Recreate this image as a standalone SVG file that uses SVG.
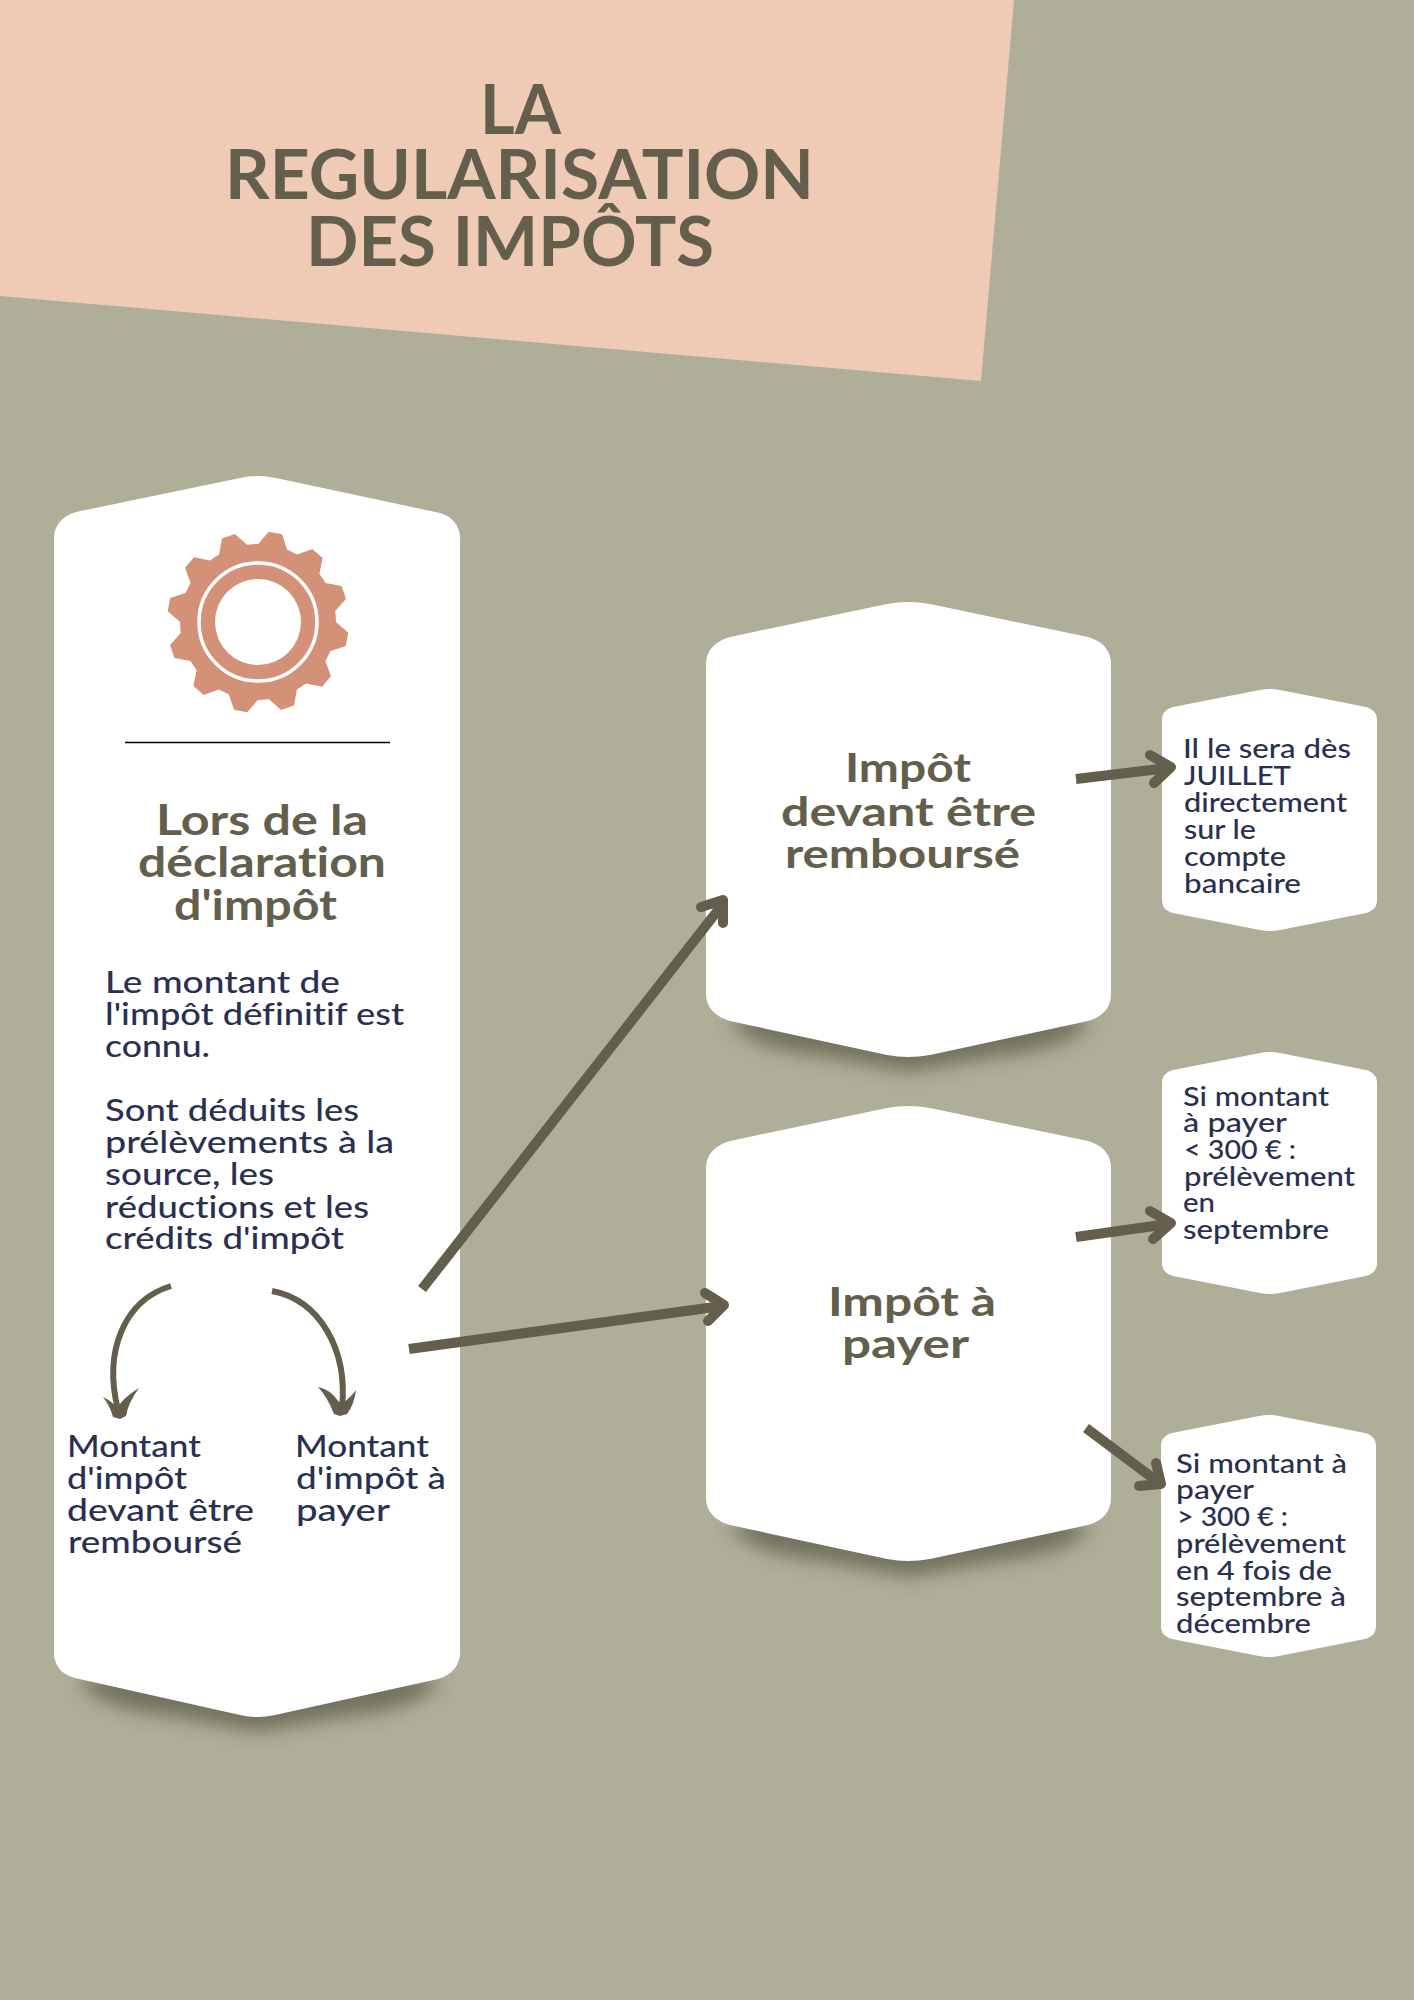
<svg xmlns="http://www.w3.org/2000/svg" xmlns:xlink="http://www.w3.org/1999/xlink" width="1414" height="2000" viewBox="0 0 1414 2000">
<style>
text{font-family:"Lato","Noto Sans",sans-serif;font-variant-ligatures:none}
.white{fill:#fff}
.title{font-size:68px;font-weight:700;fill:#635f4c}
.head{font-size:42px;font-weight:700;fill:#635f4c}
.head2{font-size:40px;font-weight:700;fill:#635f4c}
.body{font-size:31px;fill:#2a3150;font-weight:500}
.small{font-size:26.5px;fill:#2a3150;font-weight:500}
.arrow{fill:none;stroke:#635f4c;stroke-width:10;stroke-linejoin:round}
.head-arm{fill:none;stroke:#635f4c;stroke-width:10;stroke-linecap:round;stroke-linejoin:round}
.curve{fill:none;stroke:#635f4c;stroke-width:6}
.swoosh{fill:#635f4c}
.shadow{fill:#4c4c38;opacity:.6;filter:url(#blur)}
</style>
<defs>
<filter id="blur" x="-20%" y="-100%" width="140%" height="300%"><feGaussianBlur stdDeviation="9"/></filter>
<path id="bigcard" d="M0 62 C0 48 10 39 24 35 L181 2 Q202 -2 224 2 L382 35 C396 39 405 48 405 62 L405 392 C405 406 396 415 382 419 L224 453 Q202 457 181 453 L24 419 C10 415 0 406 0 392 Z"/>
<path id="smallcard" d="M0 31 C0 24 4 20 11 18 L98 1 Q108 -1 118 1 L204 18 C211 20 215 24 215 31 L215 211 C215 218 211 222 204 224 L118 241 Q108 243 98 241 L11 224 C4 222 0 218 0 211 Z"/>
<path id="cardshadow" d="M78 1680 Q95 1708 170 1716 L258 1732 L350 1716 Q425 1708 440 1680 L258 1650 Z"/>
<polygon id="tooth" points="-15.4,-75.5 -6.8,-90.7 6.8,-90.7 15.4,-75.5"/>
</defs>

<rect id="background" width="1414" height="2000" fill="#afae99"/>
<g id="banner">
<polygon points="0,0 1014,0 981,381 0,296" fill="#efcab5"/>
<text class="title" x="480" y="134" textLength="81" lengthAdjust="spacingAndGlyphs">LA</text>
<text class="title" x="225" y="199" textLength="589" lengthAdjust="spacingAndGlyphs">REGULARISATION</text>
<text class="title" x="306" y="266" textLength="408" lengthAdjust="spacingAndGlyphs">DES IMPÔTS</text>
</g>

<g id="card-declaration">
<use xlink:href="#cardshadow" class="shadow"/>
<path class="white" d="M54 538 C54 526 62 516 76 512 L240 478 Q258 474 276 478 L440 513 C452 516 460 526 460 538 L460 1653 C460 1665 452 1675 438 1679 L275 1715 Q257 1719 240 1715 L75 1678 C62 1675 54 1665 54 1653 Z"/>
<g id="gear" transform="translate(258 622)" fill="#d39178">
<circle r="78"/>
<use xlink:href="#tooth" transform="rotate(11)"/>
<use xlink:href="#tooth" transform="rotate(41)"/>
<use xlink:href="#tooth" transform="rotate(71)"/>
<use xlink:href="#tooth" transform="rotate(101)"/>
<use xlink:href="#tooth" transform="rotate(131)"/>
<use xlink:href="#tooth" transform="rotate(161)"/>
<use xlink:href="#tooth" transform="rotate(191)"/>
<use xlink:href="#tooth" transform="rotate(221)"/>
<use xlink:href="#tooth" transform="rotate(251)"/>
<use xlink:href="#tooth" transform="rotate(281)"/>
<use xlink:href="#tooth" transform="rotate(311)"/>
<use xlink:href="#tooth" transform="rotate(341)"/>
<circle r="59" fill="none" stroke="#fff" stroke-width="3.5"/>
<circle r="43" fill="#fff"/>
</g>
<line x1="125" y1="742.5" x2="390" y2="742.5" stroke="#000" stroke-width="1.5"/>
<text class="head" x="156" y="835" textLength="212" lengthAdjust="spacingAndGlyphs">Lors de la</text>
<text class="head" x="138" y="877" textLength="248" lengthAdjust="spacingAndGlyphs">déclaration</text>
<text class="head" x="174" y="920" textLength="163" lengthAdjust="spacingAndGlyphs">d'impôt</text>
<text class="body" x="105" y="993" textLength="235" lengthAdjust="spacingAndGlyphs">Le montant de</text>
<text class="body" x="105" y="1025" textLength="299" lengthAdjust="spacingAndGlyphs">l'impôt définitif est</text>
<text class="body" x="105" y="1057" textLength="105" lengthAdjust="spacingAndGlyphs">connu.</text>
<text class="body" x="105" y="1121" textLength="254" lengthAdjust="spacingAndGlyphs">Sont déduits les</text>
<text class="body" x="105" y="1153" textLength="289" lengthAdjust="spacingAndGlyphs">prélèvements à la</text>
<text class="body" x="105" y="1185" textLength="169" lengthAdjust="spacingAndGlyphs">source, les</text>
<text class="body" x="105" y="1218" textLength="264" lengthAdjust="spacingAndGlyphs">réductions et les</text>
<text class="body" x="105" y="1249" textLength="239" lengthAdjust="spacingAndGlyphs">crédits d'impôt</text>
<text class="body" x="67" y="1457" textLength="134" lengthAdjust="spacingAndGlyphs">Montant</text>
<text class="body" x="67" y="1489" textLength="120" lengthAdjust="spacingAndGlyphs">d'impôt</text>
<text class="body" x="67" y="1521" textLength="187" lengthAdjust="spacingAndGlyphs">devant être</text>
<text class="body" x="68" y="1553" textLength="174" lengthAdjust="spacingAndGlyphs">remboursé</text>
<text class="body" x="295" y="1457" textLength="134" lengthAdjust="spacingAndGlyphs">Montant</text>
<text class="body" x="296" y="1489" textLength="150" lengthAdjust="spacingAndGlyphs">d'impôt à</text>
<text class="body" x="296" y="1521" textLength="94" lengthAdjust="spacingAndGlyphs">payer</text>
</g>

<g id="card-rembourse">
<use xlink:href="#cardshadow" class="shadow" transform="translate(651 -660)"/>
<use xlink:href="#bigcard" class="white" transform="translate(706 602)"/>
<text class="head2" x="845" y="782" textLength="126" lengthAdjust="spacingAndGlyphs">Impôt</text>
<text class="head2" x="781" y="826" textLength="255" lengthAdjust="spacingAndGlyphs">devant être</text>
<text class="head2" x="785" y="868" textLength="235" lengthAdjust="spacingAndGlyphs">remboursé</text>
</g>

<g id="card-payer">
<use xlink:href="#cardshadow" class="shadow" transform="translate(651 -155)"/>
<use xlink:href="#bigcard" class="white" transform="translate(706 1106)"/>
<text class="head2" x="828" y="1316" textLength="168" lengthAdjust="spacingAndGlyphs">Impôt à</text>
<text class="head2" x="842" y="1358" textLength="127" lengthAdjust="spacingAndGlyphs">payer</text>
</g>

<g id="note-juillet">
<use xlink:href="#smallcard" class="white" transform="translate(1162 689)"/>
<text class="small" x="1183" y="758" textLength="168" lengthAdjust="spacingAndGlyphs">Il le sera dès</text>
<text class="small" x="1184" y="785" textLength="107" lengthAdjust="spacingAndGlyphs">JUILLET</text>
<text class="small" x="1184" y="812" textLength="163" lengthAdjust="spacingAndGlyphs">directement</text>
<text class="small" x="1184" y="839" textLength="72" lengthAdjust="spacingAndGlyphs">sur le</text>
<text class="small" x="1184" y="866" textLength="102" lengthAdjust="spacingAndGlyphs">compte</text>
<text class="small" x="1184" y="893" textLength="117" lengthAdjust="spacingAndGlyphs">bancaire</text>
</g>

<g id="note-moins-300">
<use xlink:href="#smallcard" class="white" transform="translate(1162 1052)"/>
<text class="small" x="1183" y="1106" textLength="146" lengthAdjust="spacingAndGlyphs">Si montant</text>
<text class="small" x="1183" y="1132" textLength="104" lengthAdjust="spacingAndGlyphs">à payer</text>
<text class="small" x="1184" y="1159" textLength="112" lengthAdjust="spacingAndGlyphs">&lt; 300 € :</text>
<text class="small" x="1184" y="1186" textLength="171" lengthAdjust="spacingAndGlyphs">prélèvement</text>
<text class="small" x="1183" y="1212" textLength="32" lengthAdjust="spacingAndGlyphs">en</text>
<text class="small" x="1183" y="1239" textLength="146" lengthAdjust="spacingAndGlyphs">septembre</text>
</g>

<g id="note-plus-300">
<use xlink:href="#smallcard" class="white" transform="translate(1161 1415)"/>
<text class="small" x="1176" y="1473" textLength="171" lengthAdjust="spacingAndGlyphs">Si montant à</text>
<text class="small" x="1176" y="1499" textLength="78" lengthAdjust="spacingAndGlyphs">payer</text>
<text class="small" x="1177" y="1526" textLength="111" lengthAdjust="spacingAndGlyphs">&gt; 300 € :</text>
<text class="small" x="1176" y="1553" textLength="170" lengthAdjust="spacingAndGlyphs">prélèvement</text>
<text class="small" x="1176" y="1580" textLength="156" lengthAdjust="spacingAndGlyphs">en 4 fois de</text>
<text class="small" x="1176" y="1606" textLength="170" lengthAdjust="spacingAndGlyphs">septembre à</text>
<text class="small" x="1176" y="1633" textLength="135" lengthAdjust="spacingAndGlyphs">décembre</text>
</g>

<g id="connectors">
<path class="arrow" d="M422 1289 L722 905"/>
<path class="head-arm" d="M701 907 L723 900 L723 923"/>
<path class="arrow" d="M409 1349 L722 1306"/>
<path class="head-arm" d="M705 1293 L724 1305 L708 1321"/>
<path class="arrow" d="M1076 779 L1168 768"/>
<path class="head-arm" d="M1150 755 L1171 767 L1154 783"/>
<path class="arrow" d="M1076 1237 L1168 1224"/>
<path class="head-arm" d="M1150 1211 L1171 1223 L1153 1239"/>
<path class="arrow" d="M1086 1428 L1158 1482"/>
<path class="head-arm" d="M1156 1463 L1161 1484 L1139 1486"/>
<path class="curve" d="M171 1286 C125 1300 103 1350 118 1410"/>
<path class="swoosh" d="M103 1397 Q113 1402 117 1408 Q124 1397 139 1388 Q128 1403 126 1416 L120 1419 L113 1417 Q110 1406 103 1397 Z"/>
<path class="curve" d="M272 1291 C320 1300 348 1350 342 1408"/>
<path class="swoosh" d="M318 1387 Q330 1389 339 1402 L344 1402 Q350 1398 356 1390 Q354 1405 347 1414 L340 1416 L334 1414 Q328 1398 318 1387 Z"/>
</g>
</svg>
